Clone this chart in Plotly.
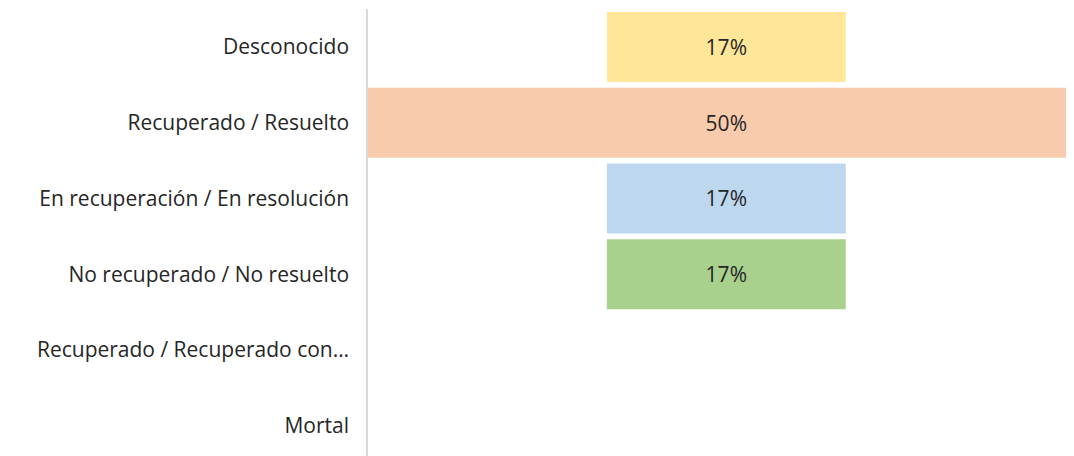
import plotly.graph_objects as go

categories = [
    "Desconocido",
    "Recuperado / Resuelto",
    "En recuperación / En resolución",
    "No recuperado / No resuelto",
    "Recuperado / Recuperado con…",
    "Mortal",
]
values = [16.67, 50.0, 16.67, 16.67, 0, 0]
colors = ["#FFE699", "#F8CBAD", "#BDD7EE", "#A9D18E", "#CCCCCC", "#CCCCCC"]
labels = [f"{v:.0f}%" if v else "" for v in values]

FONT = "Open Sans, sans-serif"

fig = go.Figure(go.Funnel(
    y=categories,
    x=values,
    orientation="h",
    marker=dict(color=colors, line=dict(width=0)),
    text=labels,
    textinfo="text",
    textposition="inside",
    insidetextanchor="middle",
    textfont=dict(family=FONT, size=21, color="#262626"),
    connector=dict(visible=False),
    hoverinfo="y+x",
))

# page body has an 8px default margin, so the figure is sized to fit the window
fig.update_layout(
    width=1066,
    height=448,
    margin=dict(l=360, r=0, t=1, b=0, autoexpand=False),
    paper_bgcolor="white",
    plot_bgcolor="white",
    funnelgap=0.076,
    showlegend=False,
    font=dict(family=FONT, size=21, color="#262626"),
)
fig.update_xaxes(visible=False, range=[-25, 24.26], fixedrange=True)
fig.update_yaxes(
    type="category",
    categoryorder="array",
    categoryarray=categories,
    range=[5.4, -0.5],
    autorange=False,
    showline=True,
    linecolor="#D9D9D9",
    linewidth=1.5,
    showgrid=False,
    zeroline=False,
    ticks="",
    ticklabelstandoff=13,
    tickfont=dict(family=FONT, size=21, color="#262626"),
    fixedrange=True,
)

fig.write_html("out.html")
